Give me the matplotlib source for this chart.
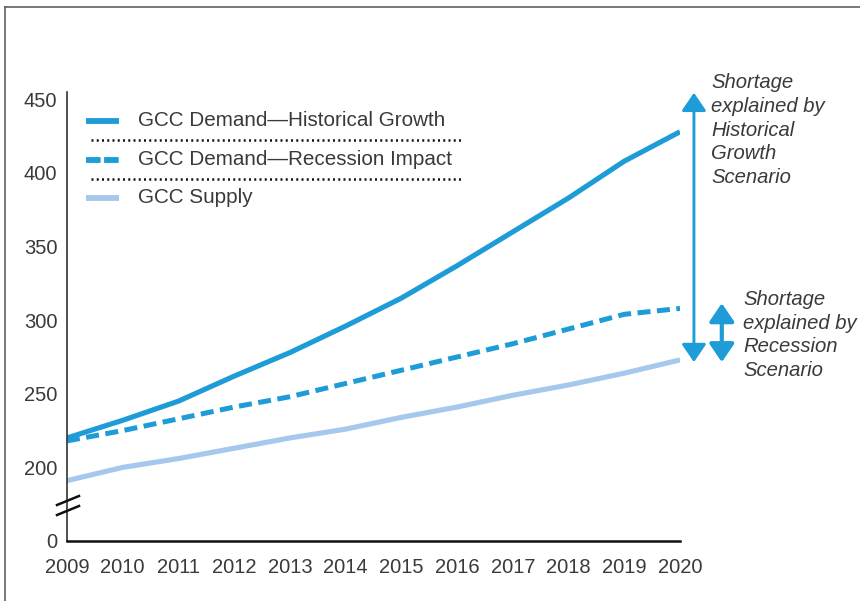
import matplotlib.pyplot as plt
from matplotlib.lines import Line2D
from matplotlib.patches import FancyArrowPatch

plt.rcParams['font.family'] = ['Liberation Sans', 'DejaVu Sans']

years = [2009, 2010, 2011, 2012, 2013, 2014, 2015, 2016, 2017, 2018, 2019, 2020]
demand_hist = [220, 232, 245, 262, 278, 296, 315, 337, 360, 383, 408, 428]
demand_recession = [218, 225, 233, 241, 248, 257, 266, 275, 284, 294, 304, 308]
supply = [191, 200, 206, 213, 220, 226, 234, 241, 249, 256, 264, 273]

ytick_vals = [150, 200, 250, 300, 350, 400, 450]
ytick_labels = ['0', '200', '250', '300', '350', '400', '450']

legend_labels = ['GCC Demand\u2014Historical Growth',
                 'GCC Demand\u2014Recession Impact',
                 'GCC Supply']
note_hist = 'Shortage\nexplained by\nHistorical\nGrowth\nScenario'
note_rec = 'Shortage\nexplained by\nRecession\nScenario'

BLUE = '#1e9cd7'
LIGHT = '#a5c8ec'
TEXT = '#3a3a3a'
W, H = 860, 601


def px(x, y):
    # pixel position -> figure fraction
    return x / W, 1 - y / H


fig = plt.figure(figsize=(8.6, 6.01), dpi=100)
ax = fig.add_axes([67 / W, 60 / H, 613 / W, 449 / H])

ax.plot(years, demand_hist, color=BLUE, lw=3.7, solid_capstyle='butt')
ax.plot(years, demand_recession, color=BLUE, lw=3.6, dashes=(2.6, 1.3))
ax.plot(years, supply, color=LIGHT, lw=3.7, solid_capstyle='butt')

ax.set_xlim(2009, 2020)
ax.set_ylim(150, 455)
ax.set_xticks(years)
ax.set_xticklabels([str(y) for y in years])
ax.set_yticks(ytick_vals)
ax.set_yticklabels(ytick_labels)
ax.tick_params(length=0, labelsize=14.5, labelcolor=TEXT)
ax.tick_params(axis='x', pad=12)
ax.tick_params(axis='y', pad=7)
for s in ['top', 'right']:
    ax.spines[s].set_visible(False)
ax.spines['bottom'].set_linewidth(1.8)
ax.spines['bottom'].set_color('#111111')
ax.spines['left'].set_linewidth(1.2)
ax.spines['left'].set_color('#333333')

# shortage arrows right of the last year
arrow_kw = dict(arrowstyle='<|-|>,head_length=1.1,head_width=0.75',
                mutation_scale=10, color=BLUE, shrinkA=0, shrinkB=0,
                clip_on=False)
ax.add_patch(FancyArrowPatch((2020.25, supply[-1] - 1.5), (2020.25, 454.5),
                             lw=2.1, **arrow_kw))
ax.add_patch(FancyArrowPatch((2020.75, supply[-1] - 1.5),
                             (2020.75, demand_recession[-1] + 3.5),
                             lw=3.0, **arrow_kw))

fig.text(*px(711, 130), note_hist, ha='left', va='center', fontsize=14.6,
         style='italic', color=TEXT, linespacing=1.32)
fig.text(*px(743, 335), note_rec, ha='left', va='center', fontsize=14.6,
         style='italic', color=TEXT, linespacing=1.32)

# legend drawn by hand so the dotted rules fit between entries
rows = [121, 159.5, 198]
fig.add_artist(Line2D([86 / W, 119 / W], [px(0, rows[0])[1]] * 2,
                      color=BLUE, lw=4.2, solid_capstyle='butt'))
fig.add_artist(Line2D([86 / W, 119 / W], [px(0, rows[1])[1]] * 2,
                      color=BLUE, lw=4.2, dashes=(2.5, 0.6)))
fig.add_artist(Line2D([86 / W, 119 / W], [px(0, rows[2])[1]] * 2,
                      color=LIGHT, lw=4.2, solid_capstyle='butt'))
for label, r in zip(legend_labels, rows):
    fig.text(*px(138, r), label, ha='left', va='center', fontsize=14.9,
             color=TEXT)
for r in [140, 178.5]:
    fig.add_artist(Line2D([91 / W, 462 / W], [px(0, r)[1]] * 2,
                          color='#111111', lw=1.8, dashes=(0.8, 1.3)))

# axis break marks
for y0 in [505, 515]:
    x1, y1 = px(57, y0)
    x2, y2 = px(79, y0 - 9)
    fig.add_artist(Line2D([x1, x2], [y1, y2], color='#111111', lw=1.8))

# page frame on top and left
fig.add_artist(Line2D([5 / W, 1], [px(0, 7)[1]] * 2, color='#555555', lw=1.1))
fig.add_artist(Line2D([5 / W, 5 / W], [px(0, 7)[1], 0], color='#555555',
                      lw=1.1))

fig.savefig('out.png', dpi=100)
